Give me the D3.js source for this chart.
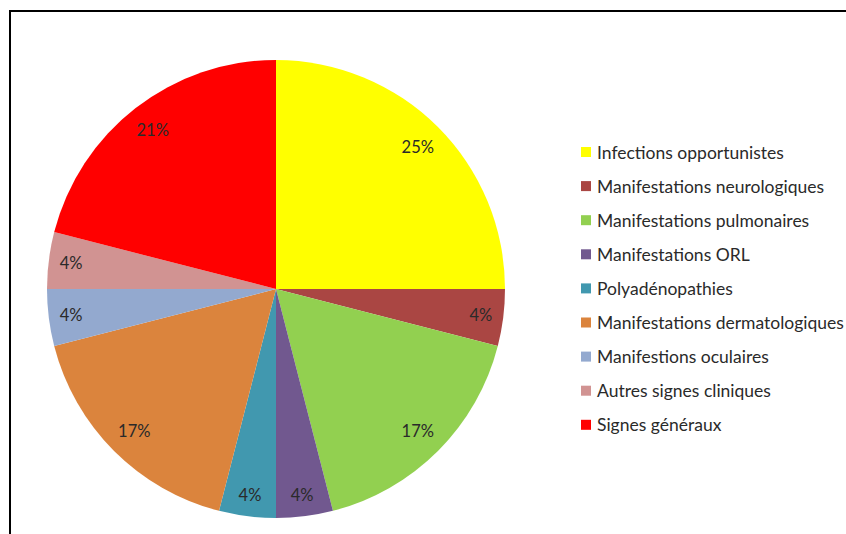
<!DOCTYPE html>
<html>
<head>
<meta charset="utf-8">
<script src="https://cdn.jsdelivr.net/npm/d3@7/dist/d3.min.js"></script>
<style>
  html, body { margin: 0; padding: 0; background: #fff; }
  svg { display: block; }
</style>
</head>
<body>
<svg id="chart" width="846" height="534"></svg>
<script>
// Répartition des manifestations cliniques (%)
const categories = [
  "Infections opportunistes",
  "Manifestations neurologiques",
  "Manifestations pulmonaires",
  "Manifestations ORL",
  "Polyadénopathies",
  "Manifestations dermatologiques",
  "Manifestions oculaires",
  "Autres signes cliniques",
  "Signes généraux"
];
const values = [25, 4, 17, 4, 4, 17, 4, 4, 21];
const colors = [
  "#FFFF00", "#AA4643", "#92D050", "#71588F", "#4198AF",
  "#DB843D", "#93A9CF", "#D19392", "#FF0000"
];

const svg = d3.select("#chart");
const W = 846, H = 534;
const cx = 276, cy = 289, R = 229;
const FONT = "Lato, 'Open Sans', sans-serif";

// frame
svg.append("rect")
  .attr("x", 10).attr("y", 11)
  .attr("width", W).attr("height", H)
  .attr("fill", "none").attr("stroke", "#000").attr("stroke-width", 2);

const pie = d3.pie().sort(null).value(d => d)(values);
const arc = d3.arc().innerRadius(0).outerRadius(R);

const g = svg.append("g").attr("transform", `translate(${cx},${cy})`);

g.selectAll("path.slice")
  .data(pie)
  .join("path")
  .attr("class", "slice")
  .attr("d", arc)
  .attr("fill", (d, i) => colors[i]);

// percentage labels placed at the inner edge of each slice's rim
const labels = g.selectAll("text.lbl")
  .data(pie)
  .join("text")
  .attr("class", "lbl")
  .attr("font-family", FONT)
  .attr("font-size", 16.5)
  .attr("fill", "#2a2a2a")
  .attr("text-anchor", "middle")
  .attr("dominant-baseline", "central")
  .text(d => d.value + "%");

labels.each(function (d) {
  const bb = this.getBBox();
  const a = (d.startAngle + d.endAngle) / 2;
  const sx = Math.sin(a), sy = -Math.cos(a);
  const ext = (bb.width / 2) * Math.abs(sx) + (bb.height / 2) * Math.abs(sy);
  const rr = R - 10 - ext;
  d3.select(this).attr("x", rr * sx).attr("y", rr * sy);
});

// legend
const legend = svg.append("g").attr("transform", "translate(581,152)");
const rows = legend.selectAll("g")
  .data(categories)
  .join("g")
  .attr("transform", (d, i) => `translate(0,${i * 34.1})`);

rows.append("rect")
  .attr("x", 0).attr("y", -5)
  .attr("width", 10).attr("height", 10)
  .attr("fill", (d, i) => colors[i]);

rows.append("text")
  .attr("x", 16).attr("y", 0)
  .attr("dominant-baseline", "central")
  .attr("font-family", FONT)
  .attr("font-size", 17.5)
  .attr("fill", "#2a2a2a")
  .text(d => d);
</script>
</body>
</html>
